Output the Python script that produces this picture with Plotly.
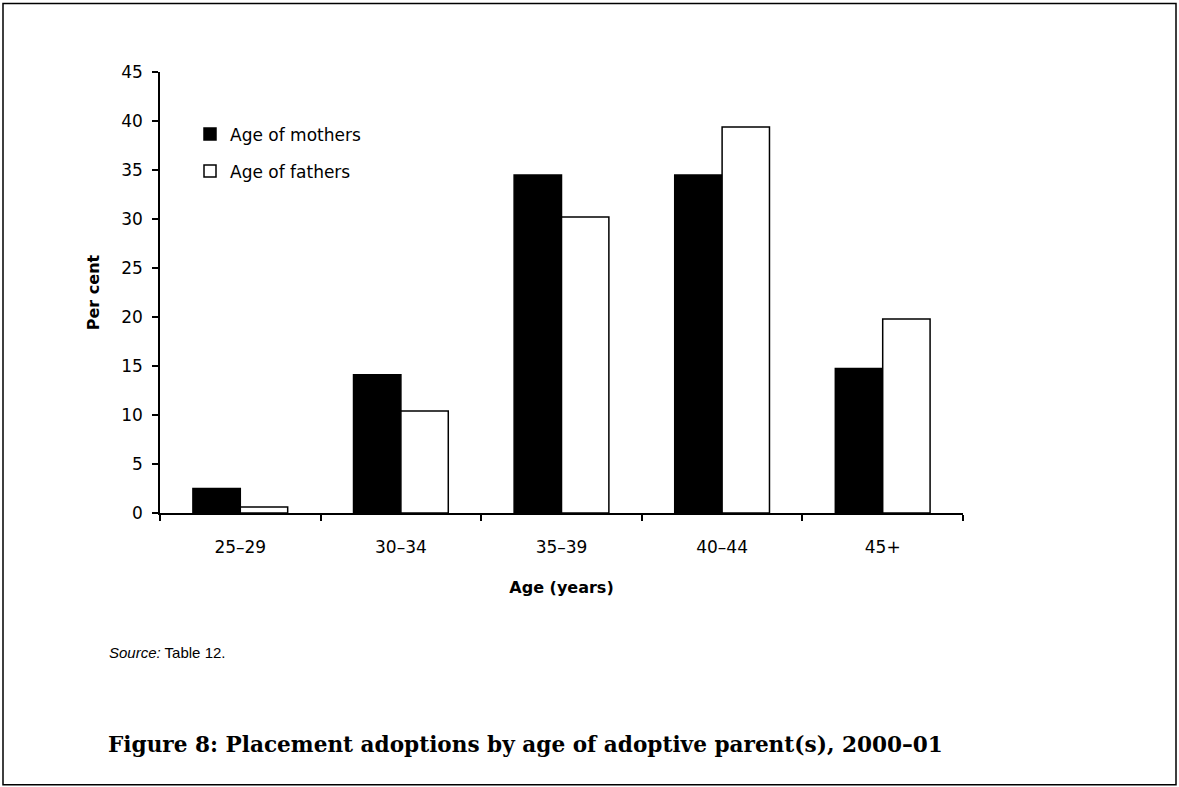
import plotly.graph_objects as go

categories = ["25–29", "30–34", "35–39", "40–44", "45+"]
mothers = [2.5, 14.1, 34.5, 34.5, 14.75]
fathers = [0.6, 10.4, 30.2, 39.4, 19.8]
y_ticks = [0, 5, 10, 15, 20, 25, 30, 35, 40, 45]

L, R, T, B = 160, 963, 71.5, 513
W, H = 1179, 787

def px(x):
    return (x - L) / (R - L)

def py(y):
    return (B - y) / (B - T)

fig = go.Figure()
fig.add_trace(go.Bar(x=categories, y=mothers, name="Age of mothers", legendgroup="m",
                     marker=dict(color="black", line=dict(color="black", width=1.5))))
fig.add_trace(go.Bar(x=categories, y=fathers, name="Age of fathers", legendgroup="f",
                     marker=dict(color="white", line=dict(color="black", width=1.5))))

font_sans = "DejaVu Sans, Arial, sans-serif"
fig.update_layout(
    width=W, height=H,
    margin=dict(l=L, r=W - R, t=T, b=H - B, pad=0),
    paper_bgcolor="white", plot_bgcolor="white",
    barmode="group", bargap=0.41, bargroupgap=0,
    font=dict(family=font_sans, size=17, color="black"),
    showlegend=True,
    legend=dict(x=px(190), y=py(116), xanchor="left", yanchor="top",
                font=dict(size=17, family=font_sans), traceorder="grouped",
                tracegroupgap=12, bgcolor="rgba(0,0,0,0)", itemwidth=30),
    xaxis=dict(type="category", showline=True, linecolor="black", linewidth=1.5,
               ticks="outside", tickson="boundaries", ticklen=6, tickwidth=1.5,
               tickcolor="black", showgrid=False, zeroline=False,
               tickfont=dict(size=17), ticklabelstandoff=18,
               title=dict(text="<b>Age (years)</b>", font=dict(size=16), standoff=26)),
    yaxis=dict(range=[0, 45], tickvals=y_ticks, showline=True, linecolor="black",
               linewidth=1.5, ticks="outside", ticklen=6, tickwidth=1.5, tickcolor="black",
               showgrid=False, zeroline=False, tickfont=dict(size=17), ticklabelstandoff=6,
               title=dict(text="<b>Per cent</b>", font=dict(size=16), standoff=18)),
)

fig.add_annotation(x=px(107), y=py(653), xref="paper", yref="paper", xanchor="left",
                   yanchor="middle", showarrow=False,
                   text="<i>Source:</i> Table 12.",
                   font=dict(size=15, family="Liberation Sans, Arial, sans-serif"))
fig.add_annotation(x=px(106), y=py(745), xref="paper", yref="paper", xanchor="left",
                   yanchor="middle", showarrow=False,
                   text="<b>Figure 8: Placement adoptions by age of adoptive parent(s), 2000–01</b>",
                   font=dict(size=21.6, family="DejaVu Serif, serif"))
fig.add_shape(type="rect", xref="paper", yref="paper",
              x0=px(3), x1=px(1176), y0=py(785), y1=py(3),
              line=dict(color="black", width=1.5), layer="below")

fig.write_html("out.html", config={"displayModeBar": False})

with open("out.html", "r", encoding="utf-8") as f:
    html = f.read()
html = html.replace("<body>", '<body style="margin:0;padding:0;overflow:hidden">', 1)
with open("out.html", "w", encoding="utf-8") as f:
    f.write(html)
